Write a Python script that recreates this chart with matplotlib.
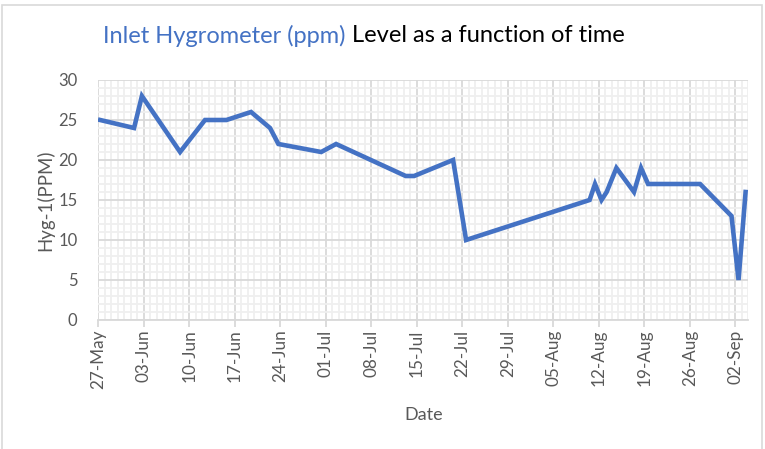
import matplotlib
matplotlib.use("Agg")
import matplotlib.pyplot as plt
import matplotlib.dates as mdates
from matplotlib.patches import Rectangle
import pandas as pd

plt.rcParams['font.family'] = ['Lato', 'DejaVu Sans']

# ---- data ----
timestamps = [
    "2021-05-27 07:00", "2021-06-01 12:00", "2021-06-02 17:00", "2021-06-08 14:00",
    "2021-06-12 10:00", "2021-06-15 17:00", "2021-06-19 12:00", "2021-06-22 10:00",
    "2021-06-23 17:00", "2021-06-30 07:00", "2021-07-02 14:00", "2021-07-13 07:00",
    "2021-07-14 14:00", "2021-07-20 14:00", "2021-07-22 14:00", "2021-08-10 14:00",
    "2021-08-11 10:00", "2021-08-12 10:00", "2021-08-13 05:00", "2021-08-14 17:00",
    "2021-08-17 10:00", "2021-08-18 12:00", "2021-08-19 14:00", "2021-08-27 14:00",
    "2021-09-01 10:00", "2021-09-02 12:00", "2021-09-03 14:00",
]
hyg_ppm = [25, 24, 28, 21, 25, 25, 26, 24, 22, 21, 22, 18, 18, 20, 10, 15,
           17, 15, 16, 19, 16, 19, 17, 17, 13, 5, 16]
x_start = "2021-05-27"
x_last_tick = "2021-09-02"
x_end = "2021-09-04"
y_ticks = [0, 5, 10, 15, 20, 25, 30]

title_blue = "Inlet Hygrometer (ppm)"
title_black = " Level as a function of time"
x_label = "Date"
y_label = "Hyg-1(PPM)"

dates = pd.to_datetime(timestamps)
major_dates = pd.date_range(x_start, x_last_tick, freq="7D")

W, H = 765, 449
fig = plt.figure(figsize=(W / 100, H / 100), dpi=100)
ax = fig.add_axes([98.3 / W, 1 - 320 / H, (748.3 - 98.3) / W, 240 / H])

ax.plot(dates, hyg_ppm, color="#4472C4", lw=3.3, solid_joinstyle="miter", zorder=3)

ax.set_xlim(pd.Timestamp(x_start), pd.Timestamp(x_end))
ax.set_ylim(0, 30)
ax.set_yticks(y_ticks)
ax.yaxis.set_minor_locator(matplotlib.ticker.MultipleLocator(1))

ax.xaxis.set_major_locator(matplotlib.ticker.FixedLocator(mdates.date2num(major_dates)))
ax.xaxis.set_minor_locator(mdates.DayLocator())
ax.xaxis.set_major_formatter(mdates.DateFormatter("%d-%b"))

grid_major = "#d9d9d9"
grid_minor = "#efefef"
ax.grid(which="major", color=grid_major, lw=1.3, zorder=1)
ax.grid(which="minor", color=grid_minor, lw=1.3, zorder=0)
ax.set_axisbelow(True)

for s in ["top", "right", "left"]:
    ax.spines[s].set_visible(False)
ax.spines["bottom"].set_color(grid_major)
ax.spines["bottom"].set_linewidth(1.3)

txt_col = "#595959"
ax.tick_params(axis="x", which="major", length=5, width=1.3, color=grid_major,
               labelsize=12.3, labelcolor=txt_col, rotation=90, pad=2)
ax.tick_params(axis="x", which="minor", length=0)
ax.tick_params(axis="y", which="both", length=0, labelsize=12, labelcolor=txt_col, pad=15)

ax.set_xlabel(x_label, fontsize=13, color=txt_col, labelpad=13)
ax.set_ylabel(y_label, fontsize=13.4, color=txt_col, labelpad=3)

# figure border
fig.patches.append(Rectangle((2 / W, -0.05), (762 - 2) / W, 1.05 - 5 / H,
                             transform=fig.transFigure, fill=False,
                             edgecolor="#d9d9d9", lw=1.2))

# two-colour title
t1 = fig.text(103 / W, 1 - 36 / H, title_blue, color="#4472C4", fontsize=17,
              va="center", ha="left")
fig.canvas.draw()
bb = t1.get_window_extent()
fig.text(bb.x1 / W, 1 - 36 / H, title_black, color="black", fontsize=17,
         va="center", ha="left")

fig.savefig("out.png", dpi=100)
